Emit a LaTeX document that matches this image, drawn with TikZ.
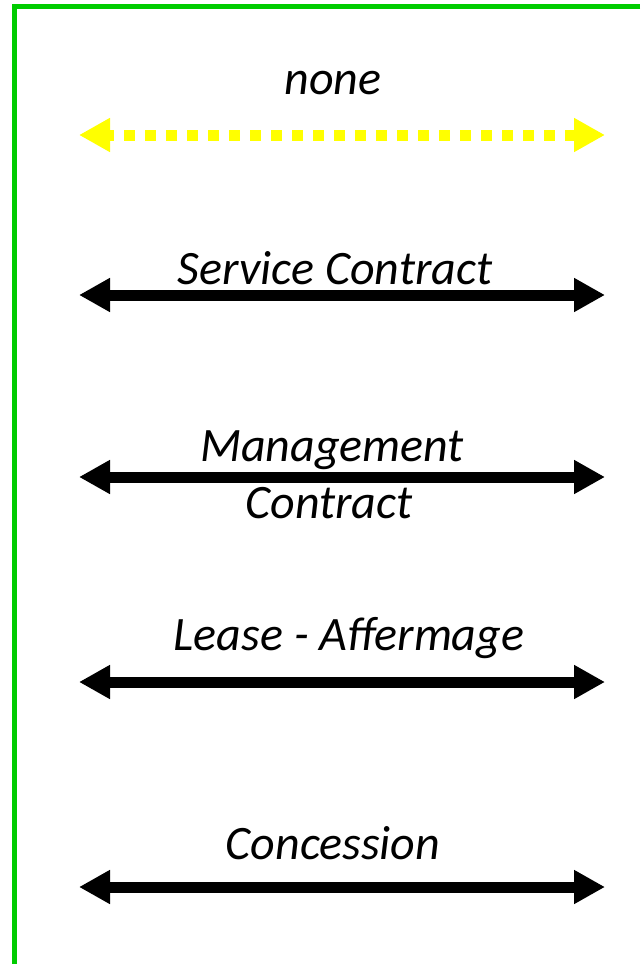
\documentclass[tikz,border=0pt]{standalone}
\usepackage{fontspec}
\setmainfont{Carlito}
\usetikzlibrary{arrows.meta}
\definecolor{framegreen}{HTML}{00CC00}
\definecolor{dotyellow}{HTML}{FFFF00}
\tikzset{
  twoway/.style={line width=11pt, {Triangle[length=31pt 0,width=32pt 0]}-{Triangle[length=31pt 0,width=32pt 0]}},
  solidarrow/.style={twoway, draw=black},
  dotarrow/.style={twoway, draw=dotyellow, line cap=butt, dash pattern=on 11pt off 10pt, dash phase=5pt},
  lbl/.style={font=\fontsize{48}{56}\selectfont\itshape, inner sep=0pt, anchor=base, align=center},
  frame/.style={draw=framegreen, line width=5pt}
}
\begin{document}
\begin{tikzpicture}[x=1pt,y=-1pt]
\useasboundingbox (0,0) rectangle (640,964);
\coordinate (ftr) at (640,6.5);
\coordinate (fc) at (14,6.5);
\coordinate (fbl) at (14,964);
\draw[frame] (ftr) -- (fc) -- (fbl);
% arrows
\coordinate (l0) at (79,135);  \coordinate (r0) at (605,135);
\coordinate (l1) at (79,295);  \coordinate (r1) at (605,295);
\coordinate (l2) at (79,477);  \coordinate (r2) at (605,477);
\coordinate (l3) at (79,682);  \coordinate (r3) at (605,682);
\coordinate (l4) at (79,887);  \coordinate (r4) at (605,887);
\draw[dotarrow] (l0) -- (r0);
\draw[solidarrow] (l1) -- (r1);
\draw[solidarrow] (l2) -- (r2);
\draw[solidarrow] (l3) -- (r3);
\draw[solidarrow] (l4) -- (r4);
% labels
\node[lbl] (t0) at (333,94) {none};
\node[lbl] (t1) at (335,284) {Service Contract};
\node[lbl] (t2a) at (332,461) {Management};
\node[lbl] (t2b) at (329,518) {Contract};
\node[lbl] (t3) at (349,650) {Lease - Affermage};
\node[lbl] (t4) at (333,859) {Concession};
\end{tikzpicture}
\end{document}
